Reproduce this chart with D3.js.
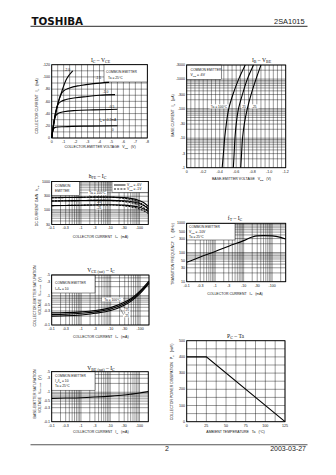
<!DOCTYPE html>
<html><head><meta charset="utf-8">
<script src="https://cdn.jsdelivr.net/npm/d3@7"></script>
<style>
html,body{margin:0;padding:0;background:#fff;}
svg{display:block;}
</style></head><body>
<svg id="page" width="336" height="475" xmlns="http://www.w3.org/2000/svg"></svg>
<script>
// ================= DATA =================
// Chart 1 : IC - VCE
const vceTicks = [0,-1,-2,-3,-4,-5,-6,-7,-8];
const vceTickText = ["0","-1","-2","-3","-4","-5","-6","-7","-8"];
const icTicks = [0,-20,-40,-60,-80,-100,-120];
const icTickText = ["0","-20","-40","-60","-80","-100","-120"];
const icCurveIb20 = [[0,0],[-0.2,-28],[-0.42,-49],[-0.84,-76],[-1.2,-95],[-1.5,-104],[-1.76,-110]];
const icCurveIb15 = [[0,0],[-0.2,-26],[-0.4,-46],[-0.6,-62],[-0.8,-72],[-1.0,-77],[-1.5,-82],[-2.4,-86],[-3.5,-89],[-4.8,-91]];
const icCurveIb10 = [[0,0],[-0.15,-20],[-0.3,-40],[-0.5,-54],[-0.8,-60],[-1.2,-63],[-2,-66],[-3,-68],[-4,-70],[-5.3,-71]];
const icCurveIb05 = [[0,0],[-0.1,-15],[-0.2,-28],[-0.35,-37],[-0.6,-41],[-1,-43],[-2,-45],[-3.5,-46],[-5.5,-47]];
const icCurveIb02 = [[0,0],[-0.05,-8],[-0.12,-14],[-0.25,-17],[-0.5,-18],[-1,-18.5],[-3,-19.5],[-5.5,-20]];
const icLabelText = ["-2.0","-1.5","-1.0","-0.5","I_{B} = -0.2mA","0"];
const icLabelVce  = [-1.3,-3.9,-4.5,-5.0,-4.7,-5.1];
const icLabelIc   = [-110,-96,-74,-49,-28,-12];

// Chart 2 : IB - VBE
const vbeTicks = [0,-0.2,-0.4,-0.6,-0.8,-1.0,-1.2];
const vbeTickText = ["0","-0.2","-0.4","-0.6","-0.8","-1.0","-1.2"];
const ibTicks = [-1,-3,-10,-30,-100,-300,-1000,-3000];
const ibTickText = ["-1","-3","-10","-30","-100","-300","-1000","-3000"];
const ibLevels = [-1,-3,-10,-30,-100,-300,-1000,-3000];
const vbeTa100 = [-0.43,-0.445,-0.46,-0.48,-0.51,-0.56,-0.63,-0.71];
const vbeTa25  = [-0.565,-0.575,-0.585,-0.60,-0.628,-0.675,-0.735,-0.81];
const vbeTaM25 = [-0.655,-0.665,-0.677,-0.698,-0.735,-0.78,-0.84,-0.90];

// Chart 3 : hFE - IC
const hfeXTicks = [-0.1,-0.3,-1,-3,-10,-30,-100];
const hfeXTickText = ["-0.1","-0.3","-1","-3","-10","-30","-100"];
const hfeYTicks = [30,100,300,1000];
const hfeYTickText = ["30","100","300","1000"];
const hfeIc = [-0.1,-0.3,-1,-3,-10,-30,-50,-100,-150,-200];
const hfe6vTa100 = [265,270,275,280,280,268,252,210,170,132];
const hfe6vTa25  = [205,208,212,215,215,207,196,165,135,106];
const hfe6vTaM25 = [140,142,145,148,150,146,139,122,103,86];
const hfe1vTa100 = [265,270,275,280,276,255,232,180,140,112];
const hfe1vTa25  = [205,208,212,215,212,196,180,142,112,90];
const hfe1vTaM25 = [140,142,145,148,148,138,128,106,88,74];

// Chart 4 : fT - IC
const ftXTicks = [-0.1,-0.3,-1,-3,-10,-30,-100];
const ftXTickText = ["-0.1","-0.3","-1","-3","-10","-30","-100"];
const ftYTicks = [10,30,50,100,300,500,1000];
const ftYTickText = ["10","30","50","100","300","500","1000"];
const ftIc = [-0.1,-0.3,-1,-3,-10,-20,-30,-50,-100,-200,-300];
const ftValues = [46,70,108,165,255,340,370,378,372,330,290];

// Chart 5 : VCE(sat) - IC
const satXTicks = [-0.1,-0.3,-1,-3,-10,-30,-100];
const satXTickText = ["-0.1","-0.3","-1","-3","-10","-30","-100"];
const satYTicks = [-0.1,-0.3,-0.5,-1,-3,-5];
const satYTickText = ["-0.1","-0.3","-0.5","-1","-3","-5"];
const satIc = [-0.1,-0.3,-1,-3,-10,-30,-50,-100,-200];
const vceSatTa100 = [-0.26,-0.265,-0.28,-0.31,-0.39,-0.60,-0.80,-1.45,-3.1];
const vceSatTa25  = [-0.23,-0.235,-0.25,-0.28,-0.35,-0.54,-0.72,-1.30,-2.8];
const vceSatTaM25 = [-0.20,-0.205,-0.22,-0.25,-0.31,-0.48,-0.65,-1.18,-2.6];

// Chart 6 : VBE(sat) - IC
const vbeSat = [-0.62,-0.635,-0.655,-0.69,-0.74,-0.81,-0.86,-0.94,-1.05];

// Chart 7 : PC - Ta
const taTicks = [0,25,50,75,100,125];
const pcTicks = [0,100,200,300,400,500];
const taValues = [0,25,125];
const pcValues = [400,400,0];

// ================= DRAWING =================
const svg = d3.select("#page");
const SANS = '"Liberation Sans", Arial, sans-serif';
const SERIF = '"Liberation Serif", "Times New Roman", serif';
const TICK_FS = 3.6, TITLE_FS = 5.6, AX_FS = 3.5, LEG_FS = 3.3;
const INK = "#111";

function rich(sel, str, fs) {
  const re = /_\{([^}]*)\}/g; let last = 0, m; const parts = [];
  while ((m = re.exec(str))) {
    if (m.index > last) parts.push([str.slice(last, m.index), false]);
    parts.push([m[1], true]); last = re.lastIndex;
  }
  if (last < str.length) parts.push([str.slice(last), false]);
  let inSub = false;
  parts.forEach(([t, s]) => {
    const ts = sel.append("tspan").text(t);
    if (s) { ts.attr("font-size", fs * 0.72).attr("dy", inSub ? 0 : fs * 0.22); inSub = true; }
    else { if (inSub) ts.attr("dy", -fs * 0.22); inSub = false; }
  });
  return sel;
}
function txt(g, x, y, str, fs, anchor, family) {
  const t = g.append("text").attr("x", x).attr("y", y).attr("font-size", fs)
    .attr("font-family", family || SANS).attr("fill", INK).attr("text-anchor", anchor || "start")
    .attr("xml:space", "preserve");
  return rich(t, str, fs);
}
function vtxt(g, x, y, str, fs) {
  const t = g.append("text").attr("transform", `translate(${x},${y}) rotate(-90)`)
    .attr("font-size", fs).attr("font-family", SANS).attr("fill", INK).attr("text-anchor", "middle")
    .attr("xml:space", "preserve");
  return rich(t, str, fs);
}
function logGrid(lo, hi) {
  const out = [];
  for (let e = Math.floor(Math.log10(lo)) - 1; e <= Math.ceil(Math.log10(hi)); e++)
    for (let k = 1; k < 10; k++) {
      const v = +(k * Math.pow(10, e)).toPrecision(6);
      if (v >= lo * 0.9999 && v <= hi * 1.0001) out.push(v);
    }
  return out;
}
function panel(o) {
  const g = svg.append("g");
  const x = o.x, y = o.y;
  const [x0, x1] = x.range(); const [y1, y0] = y.range();
  g.append("g").attr("transform", `translate(0,${y1})`)
    .call(d3.axisBottom(x).tickValues(o.xGrid).tickSize(-(y1 - y0)).tickFormat("").offset(0))
    .call(a => { a.select(".domain").remove(); a.selectAll("line").attr("stroke", "#000").attr("stroke-width", 0.4); });
  g.append("g").attr("transform", `translate(${x0},0)`)
    .call(d3.axisLeft(y).tickValues(o.yGrid).tickSize(-(x1 - x0)).tickFormat("").offset(0))
    .call(a => { a.select(".domain").remove(); a.selectAll("line").attr("stroke", "#000").attr("stroke-width", 0.4); });
  g.append("g").attr("transform", `translate(0,${y1})`)
    .call(d3.axisBottom(x).tickValues(o.xTicks).tickFormat((d, i) => o.xTickText[i]).tickSize(0).tickPadding(2.3).offset(0))
    .call(a => { a.select(".domain").remove(); a.attr("font-size", TICK_FS).attr("font-family", SANS); a.selectAll("text").attr("fill", INK); });
  g.append("g").attr("transform", `translate(${x0},0)`)
    .call(d3.axisLeft(y).tickValues(o.yTicks).tickFormat((d, i) => o.yTickText[i]).tickSize(0).tickPadding(1.6).offset(0))
    .call(a => { a.select(".domain").remove(); a.attr("font-size", TICK_FS).attr("font-family", SANS); a.selectAll("text").attr("fill", INK); });
  txt(g, o.titleX, o.titleY, o.title, TITLE_FS, "middle", SERIF);
  txt(g, o.xtX, o.xtY, o.xTitle, AX_FS, "middle");
  o.yTitle.forEach((s, i) => vtxt(g, o.ytX[i], o.ytY, s, AX_FS));
  return { g, x, y, x0, x1, y0, y1 };
}
function frame(p) {
  p.g.append("rect").attr("x", p.x0).attr("y", p.y0).attr("width", p.x1 - p.x0).attr("height", p.y1 - p.y0)
    .attr("fill", "none").attr("stroke", "#000").attr("stroke-width", 0.85);
}
function box(p, x, y, w, h) {
  p.g.append("rect").attr("x", x).attr("y", y).attr("width", w).attr("height", h)
    .attr("fill", "#fff").attr("stroke", "#000").attr("stroke-width", 0.45);
}
function bg(p, x, y, w, h) {
  p.g.append("rect").attr("x", x).attr("y", y).attr("width", w).attr("height", h).attr("fill", "#fff");
}
function curve(p, pts, dash, cv) {
  p.g.append("path").datum(pts)
    .attr("d", d3.line().x(d => p.x(d[0])).y(d => p.y(d[1])).curve(cv || d3.curveMonotoneX))
    .attr("fill", "none").attr("stroke", "#000").attr("stroke-width", 1.1)
    .attr("stroke-dasharray", dash || null);
}
const zip = (a, b) => a.map((v, i) => [v, b[i]]);

// ---------- Header / footer ----------
svg.append("text").attr("x", 31.5).attr("y", 25).attr("font-size", 9.6).attr("font-weight", "bold")
  .attr("font-family", '"DejaVu Sans", sans-serif').attr("fill", "#111").attr("textLength", 51.6)
  .attr("lengthAdjust", "spacingAndGlyphs").text("TOSHIBA");
svg.append("text").attr("x", 304.5).attr("y", 24.4).attr("font-size", 7.4).attr("text-anchor", "end")
  .attr("font-family", SANS).attr("fill", "#222").text("2SA1015");
svg.append("line").attr("x1", 30.5).attr("x2", 307.5).attr("y1", 26.4).attr("y2", 26.4)
  .attr("stroke", "#555").attr("stroke-width", 1.3);
svg.append("line").attr("x1", 30.5).attr("x2", 307.5).attr("y1", 444.8).attr("y2", 444.8)
  .attr("stroke", "#555").attr("stroke-width", 1.1);
svg.append("text").attr("x", 167).attr("y", 450.5).attr("font-size", 7).attr("text-anchor", "middle")
  .attr("font-family", SANS).attr("fill", "#222").text("2");
svg.append("text").attr("x", 306).attr("y", 450.5).attr("font-size", 7).attr("text-anchor", "end")
  .attr("font-family", SANS).attr("fill", "#222").text("2003-03-27");

// ---------- Chart 1 : IC - VCE ----------
{
  const p = panel({
    x: d3.scaleLinear().domain([0, -8]).range([51.7, 147.3]),
    y: d3.scaleLinear().domain([0, -120]).range([138, 64.7]),
    xGrid: d3.range(0, -8.001, -0.5), yGrid: d3.range(0, -120.1, -10),
    xTicks: vceTicks, xTickText: vceTickText, yTicks: icTicks, yTickText: icTickText,
    title: "I_{C} – V_{CE}", titleX: 100.5, titleY: 62,
    xTitle: "COLLECTOR-EMITTER VOLTAGE   V_{CE}   (V)", xtX: 100, xtY: 148,
    yTitle: ["COLLECTOR CURRENT   I_{C}   (mA)"], ytX: [38], ytY: 106
  });
  box(p, 104, 64.7, 43.3, 17.3);
  [icCurveIb20, icCurveIb15, icCurveIb10, icCurveIb05, icCurveIb02].forEach(c => curve(p, c));
  frame(p);
  txt(p.g, 106, 73.2, "COMMON EMITTER", LEG_FS);
  txt(p.g, 108, 78.6, "Ta = 25°C", LEG_FS);
  icLabelText.forEach((s, i) => txt(p.g, p.x(icLabelVce[i]), p.y(icLabelIc[i]), s, LEG_FS, "middle"));
}

// ---------- Chart 2 : IB - VBE ----------
{
  const p = panel({
    x: d3.scaleLinear().domain([0, -1.2]).range([186.7, 285.7]),
    y: d3.scaleLog().domain([-1, -3000]).range([167.7, 65]),
    xGrid: d3.range(0, 24.5).map(k => -k * 0.05), yGrid: logGrid(1, 3000).map(v => -v),
    xTicks: vbeTicks, xTickText: vbeTickText, yTicks: ibTicks, yTickText: ibTickText,
    title: "I_{B} – V_{BE}", titleX: 261.5, titleY: 62,
    xTitle: "BASE-EMITTER VOLTAGE   V_{BE}   (V)", xtX: 241.5, xtY: 180,
    yTitle: ["BASE CURRENT   I_{B}   (μA)"], ytX: [174], ytY: 115.5
  });
  box(p, 186.7, 65, 35, 14.5);
  bg(p, 209.5, 104.3, 19, 4.2); bg(p, 241.5, 104.3, 5, 4.2); bg(p, 250, 104.3, 8.5, 4.2);
  [vbeTa100, vbeTa25, vbeTaM25].forEach(v => curve(p, zip(v, ibLevels), null, d3.curveMonotoneY));
  frame(p);
  txt(p.g, 190.5, 70.8, "COMMON EMITTER", LEG_FS);
  txt(p.g, 190.5, 76, "V_{CE} = -6V", LEG_FS);
  txt(p.g, 219, 107.8, "Ta = 100°C", LEG_FS, "middle");
  txt(p.g, 244, 107.8, "25", LEG_FS, "middle");
  txt(p.g, 254.3, 107.8, "-25", LEG_FS, "middle");
}

// ---------- Chart 3 : hFE - IC ----------
{
  const p = panel({
    x: d3.scaleLog().domain([-0.1, -200]).range([51.7, 148.3]),
    y: d3.scaleLog().domain([30, 1000]).range([224.5, 181.5]),
    xGrid: logGrid(0.1, 200).map(v => -v), yGrid: logGrid(30, 1000),
    xTicks: hfeXTicks, xTickText: hfeXTickText, yTicks: hfeYTicks, yTickText: hfeYTickText,
    title: "h_{FE} – I_{C}", titleX: 97.5, titleY: 177.5,
    xTitle: "COLLECTOR CURRENT   I_{C}   (mA)", xtX: 100.5, xtY: 237.5,
    yTitle: ["DC CURRENT GAIN   h_{FE}"], ytX: [38], ytY: 206
  });
  box(p, 51.7, 181.5, 28, 14);
  box(p, 112, 181.5, 36.3, 11);
  bg(p, 88, 191.4, 19, 3.6); bg(p, 95.5, 205.3, 7, 4.2);
  [hfe6vTa100, hfe6vTa25, hfe6vTaM25].forEach(v => curve(p, zip(hfeIc, v)));
  [hfe1vTa100, hfe1vTa25, hfe1vTaM25].forEach(v => curve(p, zip(hfeIc, v), "2,1.2"));
  frame(p);
  txt(p.g, 55, 186.6, "COMMON", LEG_FS);
  txt(p.g, 55, 191.6, "EMITTER", LEG_FS);
  p.g.append("line").attr("x1", 114).attr("x2", 125.5).attr("y1", 185).attr("y2", 185).attr("stroke", "#000").attr("stroke-width", 0.9);
  p.g.append("line").attr("x1", 114).attr("x2", 125.5).attr("y1", 189).attr("y2", 189).attr("stroke", "#000").attr("stroke-width", 0.9).attr("stroke-dasharray", "2,1.2");
  txt(p.g, 127, 186.3, "V_{CE} = -6V", LEG_FS);
  txt(p.g, 127, 190.3, "V_{CE} = -1V", LEG_FS);
  txt(p.g, 97.5, 194.4, "Ta = 100°C", LEG_FS, "middle");
  txt(p.g, 99, 203.2, "25", LEG_FS, "middle");
  txt(p.g, 99, 208.6, "-25", LEG_FS, "middle");
}

// ---------- Chart 4 : fT - IC ----------
{
  const p = panel({
    x: d3.scaleLog().domain([-0.1, -300]).range([186.7, 285.7]),
    y: d3.scaleLog().domain([10, 1000]).range([281.7, 223.3]),
    xGrid: logGrid(0.1, 300).map(v => -v), yGrid: logGrid(10, 1000),
    xTicks: ftXTicks, xTickText: ftXTickText, yTicks: ftYTicks, yTickText: ftYTickText,
    title: "f_{T} – I_{C}", titleX: 235, titleY: 220,
    xTitle: "COLLECTOR CURRENT   I_{C}   (mA)", xtX: 235, xtY: 294.5,
    yTitle: ["TRANSITION FREQUENCY   f_{T}   (MHz)"], ytX: [174], ytY: 254
  });
  box(p, 186.7, 223.3, 48.3, 16.7);
  curve(p, zip(ftIc, ftValues));
  frame(p);
  txt(p.g, 189, 227.9, "COMMON EMITTER", LEG_FS);
  txt(p.g, 189, 232.9, "V_{CE} = -10V", LEG_FS);
  txt(p.g, 189, 237.6, "Ta = 25°C", LEG_FS);
}

// ---------- Chart 5 : VCE(sat) - IC ----------
{
  const p = panel({
    x: d3.scaleLog().domain([-0.1, -200]).range([51.7, 149]),
    y: d3.scaleLog().domain([-0.1, -5]).range([325, 275]),
    xGrid: logGrid(0.1, 200).map(v => -v), yGrid: logGrid(0.1, 5).map(v => -v),
    xTicks: satXTicks, xTickText: satXTickText, yTicks: satYTicks, yTickText: satYTickText,
    title: "V_{CE (sat)} – I_{C}", titleX: 101, titleY: 272,
    xTitle: "COLLECTOR CURRENT   I_{C}   (mA)", xtX: 100.8, xtY: 337.5,
    yTitle: ["COLLECTOR-EMITTER SATURATION", "VOLTAGE   V_{CE (sat)}   (V)"], ytX: [35.5, 40.5], ytY: 296
  });
  box(p, 51.7, 275, 43.3, 18);
  bg(p, 102, 297.4, 21, 4); bg(p, 124.5, 308, 5.5, 3.8); bg(p, 123, 313.6, 7, 3.8);
  [vceSatTa100, vceSatTa25, vceSatTaM25].forEach(v => curve(p, zip(satIc, v)));
  frame(p);
  txt(p.g, 55, 284, "COMMON EMITTER", LEG_FS);
  txt(p.g, 55, 289.5, "I_{C}/I_{B} = 10", LEG_FS);
  txt(p.g, 112.5, 300.6, "Ta = 100°C", LEG_FS, "middle");
  txt(p.g, 127.3, 311.2, "25", LEG_FS, "middle");
  txt(p.g, 126.5, 316.8, "-25", LEG_FS, "middle");
  p.g.append("line").attr("x1", 125).attr("y1", 308.6).attr("x2", p.x(-25)).attr("y2", p.y(-0.5)).attr("stroke", "#000").attr("stroke-width", 0.4);
  p.g.append("line").attr("x1", 123.5).attr("y1", 314.6).attr("x2", p.x(-20)).attr("y2", p.y(-0.4)).attr("stroke", "#000").attr("stroke-width", 0.4);
}

// ---------- Chart 6 : VBE(sat) - IC ----------
{
  const p = panel({
    x: d3.scaleLog().domain([-0.1, -200]).range([51.7, 148.3]),
    y: d3.scaleLog().domain([-0.1, -5]).range([421.7, 371.7]),
    xGrid: logGrid(0.1, 200).map(v => -v), yGrid: logGrid(0.1, 5).map(v => -v),
    xTicks: satXTicks, xTickText: satXTickText, yTicks: satYTicks, yTickText: satYTickText,
    title: "V_{BE (sat)} – I_{C}", titleX: 101, titleY: 369.5,
    xTitle: "COLLECTOR CURRENT   I_{C}   (mA)", xtX: 100.8, xtY: 433,
    yTitle: ["BASE-EMITTER SATURATION", "VOLTAGE   V_{BE (sat)}   (V)"], ytX: [35.5, 40.5], ytY: 394
  });
  box(p, 51.7, 371.7, 43.3, 18.5);
  curve(p, zip(satIc, vbeSat));
  frame(p);
  txt(p.g, 55, 377, "COMMON EMITTER", LEG_FS);
  txt(p.g, 55, 382.2, "I_{C}/I_{B} = 10", LEG_FS);
  txt(p.g, 55, 387.2, "Ta = 25°C", LEG_FS);
}

// ---------- Chart 7 : PC - Ta ----------
{
  const p = panel({
    x: d3.scaleLinear().domain([0, 125]).range([186.7, 285]),
    y: d3.scaleLinear().domain([0, 500]).range([421.7, 340.7]),
    xGrid: d3.range(0, 125.1, 12.5), yGrid: d3.range(0, 500.1, 50),
    xTicks: taTicks, xTickText: taTicks.map(String), yTicks: pcTicks, yTickText: pcTicks.map(String),
    title: "P_{C} – Ta", titleX: 235.5, titleY: 338,
    xTitle: "AMBIENT TEMPERATURE   Ta   (°C)", xtX: 235.5, xtY: 433,
    yTitle: ["COLLECTOR POWER DISSIPATION   P_{C}   (mW)"], ytX: [173], ytY: 382
  });
  curve(p, zip(taValues, pcValues), null, d3.curveLinear);
  frame(p);
}
</script>
</body></html>
